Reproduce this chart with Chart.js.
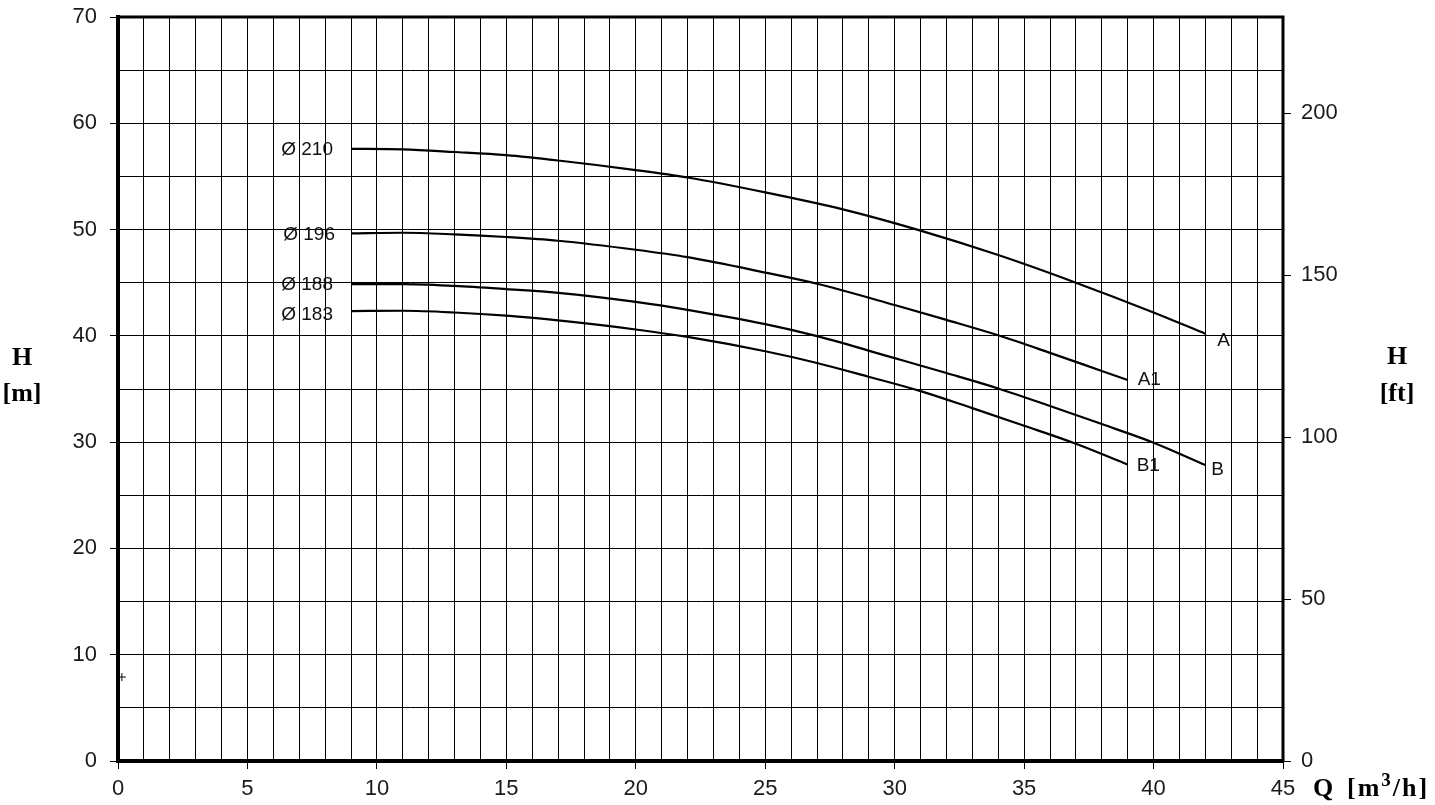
<!DOCTYPE html>
<html lang="en">
<head>
   <meta charset="UTF-8">
   <title>Pump performance curves</title>
   <script src="https://cdn.jsdelivr.net/npm/chart.js@4.4.1/dist/chart.umd.min.js"></script>
   <style>
      html, body { margin: 0; padding: 0; background: #fff; }
      .chart-container { width: 1435px; height: 805px; position: relative; }
   </style>
</head>
<body>
   <div class="chart-container">
      <canvas id="myChart"></canvas>
   </div>
   <script>
      // impeller diameters and curve end names
      const diameters = [210, 196, 188, 183];
      const endNames = ['A', 'A1', 'B', 'B1'];

      // Q [m3/h] and H [m]
      const flowA = [9, 11, 13, 15, 17, 20, 22, 25, 28, 31, 34, 37, 40, 42];
      const headA = [57.6, 57.55, 57.3, 57.0, 56.5, 55.6, 54.9, 53.5, 51.9, 49.9, 47.6, 45.0, 42.2, 40.2];

      const flowA1 = [9, 11, 13, 15, 17, 20, 22, 25, 27, 30, 32, 34, 36, 38, 39];
      const headA1 = [49.65, 49.7, 49.55, 49.3, 48.95, 48.1, 47.4, 45.95, 44.9, 42.9, 41.5, 40.05, 38.4, 36.7, 35.85];

      const flowB = [9, 11, 13, 15, 17, 20, 22, 25, 27, 30, 32, 34, 36, 38, 40, 42];
      const headB = [44.87, 44.87, 44.7, 44.4, 44.05, 43.2, 42.45, 41.1, 39.97, 37.9, 36.5, 35.05, 33.4, 31.7, 29.95, 27.85];

      const flowB1 = [9, 11, 13, 15, 17, 20, 22, 25, 27, 29, 31, 33, 35, 37, 39];
      const headB1 = [42.33, 42.36, 42.2, 41.9, 41.45, 40.6, 39.9, 38.55, 37.45, 36.15, 34.8, 33.2, 31.55, 29.85, 27.9];

      // small cross near the left axis
      const markQ = [0.15];
      const markH = [7.9];

      const ftTicks = [0, 50, 100, 150, 200];
      const M_TO_FT = 3.28084;

      const flows = [flowA, flowA1, flowB, flowB1];
      const heads = [headA, headA1, headB, headB1];

      const tickFont = { family: '"Liberation Sans", Arial, sans-serif', size: 22 };
      const tickColor = '#1a1a1a';
      const titleFont = 'bold 26px "Liberation Serif", "Times New Roman", serif';

      const datasets = flows.map((q, i) => ({
         label: 'Ø ' + diameters[i],
         data: q.map((x, k) => ({ x: x, y: heads[i][k] })),
         borderColor: '#000',
         borderWidth: 2.2,
         pointRadius: 0,
         fill: false,
         cubicInterpolationMode: 'monotone',
         xAxisID: 'x',
         yAxisID: 'y'
      }));

      datasets.push({
         label: 'mark',
         data: markQ.map((x, k) => ({ x: x, y: markH[k] })),
         showLine: false,
         pointStyle: 'cross',
         pointRadius: 4,
         borderColor: '#000',
         borderWidth: 1,
         xAxisID: 'x',
         yAxisID: 'y'
      });

      const textPlugin = {
         id: 'textPlugin',
         afterDraw(chart) {
            const { ctx, chartArea: a, scales } = chart;
            const xs = scales.x, ys = scales.y;
            ctx.save();

            // frame: top and right
            ctx.strokeStyle = '#000';
            ctx.lineWidth = 3;
            ctx.beginPath();
            ctx.moveTo(a.left, a.top);
            ctx.lineTo(a.right, a.top);
            ctx.lineTo(a.right, a.bottom);
            ctx.stroke();

            // curve labels
            ctx.fillStyle = '#111';
            ctx.font = '19px "Liberation Sans", Arial, sans-serif';
            ctx.textBaseline = 'middle';
            const startOff = [[-18, 1], [-16, 1], [-18, 1], [-18, 4]];
            const endOff = [[12, 7], [10, 0], [6, 5], [9, 1]];
            flows.forEach((q, i) => {
               const h = heads[i];
               const x0 = xs.getPixelForValue(q[0]);
               const y0 = ys.getPixelForValue(h[0]);
               ctx.textAlign = 'right';
               ctx.fillText('Ø ' + diameters[i], x0 + startOff[i][0], y0 + startOff[i][1]);
               const x1 = xs.getPixelForValue(q[q.length - 1]);
               const y1 = ys.getPixelForValue(h[h.length - 1]);
               ctx.textAlign = 'left';
               ctx.fillText(endNames[i], x1 + endOff[i][0], y1 + endOff[i][1]);
            });

            // axis titles
            ctx.fillStyle = '#000';
            ctx.font = titleFont;
            ctx.textAlign = 'center';
            ctx.fillText('H', 22, 358);
            ctx.fillText('[m]', 22, 394);
            ctx.fillText('H', 1397, 357);
            ctx.fillText('[ft]', 1397, 394);

            // Q [m3/h] with a raised 3
            ctx.textAlign = 'left';
            ctx.textBaseline = 'alphabetic';
            ctx.fillText('Q', 1313, 796);
            ctx.letterSpacing = '2px';
            let x = 1347;
            ctx.fillText('[m', x, 796);
            x += ctx.measureText('[m').width;
            ctx.font = 'bold 19px "Liberation Serif", "Times New Roman", serif';
            ctx.fillText('3', x, 786);
            x += ctx.measureText('3').width;
            ctx.font = titleFont;
            ctx.fillText('/h]', x, 796);
            ctx.restore();
         }
      };

      const config = {
         type: 'line',
         data: { datasets: datasets },
         options: {
            responsive: true,
            maintainAspectRatio: false,
            animation: false,
            layout: { padding: { top: 17, right: 0, bottom: 0, left: 0 } },
            plugins: {
               legend: { display: false },
               tooltip: { enabled: false }
            },
            scales: {
               x: {
                  type: 'linear',
                  position: 'bottom',
                  min: 0,
                  max: 45,
                  ticks: {
                     stepSize: 1,
                     autoSkip: false,
                     maxRotation: 0,
                     padding: 7,
                     font: tickFont,
                     color: tickColor,
                     callback: v => (v % 5 === 0 ? v : '')
                  },
                  grid: {
                     color: '#000',
                     lineWidth: 1,
                     tickLength: 8,
                     tickColor: c => (c.tick && c.tick.value % 5 === 0 ? '#000' : 'rgba(0,0,0,0)')
                  },
                  border: { color: '#000', width: 4 },
                  afterFit: s => { s.height = 44; s.paddingLeft = 0; s.paddingRight = 0; }
               },
               y: {
                  type: 'linear',
                  position: 'left',
                  min: 0,
                  max: 70,
                  ticks: {
                     stepSize: 5,
                     padding: 13,
                     font: tickFont,
                     color: tickColor,
                     callback: v => (v % 10 === 0 ? v : '')
                  },
                  grid: {
                     color: '#000',
                     lineWidth: 1,
                     tickLength: 8,
                     tickColor: c => (c.tick && c.tick.value % 10 === 0 ? '#000' : 'rgba(0,0,0,0)')
                  },
                  border: { color: '#000', width: 4 },
                  afterFit: s => { s.width = 118; s.paddingTop = 0; s.paddingBottom = 0; }
               },
               y2: {
                  type: 'linear',
                  position: 'right',
                  min: 0,
                  max: 70 * M_TO_FT,
                  afterBuildTicks: s => { s.ticks = ftTicks.map(v => ({ value: v })); },
                  ticks: {
                     padding: 10,
                     font: tickFont,
                     color: tickColor
                  },
                  grid: {
                     drawOnChartArea: false,
                     color: '#000',
                     tickLength: 8
                  },
                  border: { display: false },
                  afterFit: s => { s.width = 152; s.paddingTop = 0; s.paddingBottom = 0; }
               }
            }
         },
         plugins: [textPlugin]
      };

      const ctx = document.getElementById('myChart').getContext('2d');
      const chart = new Chart(ctx, config);
   </script>
</body>
</html>
